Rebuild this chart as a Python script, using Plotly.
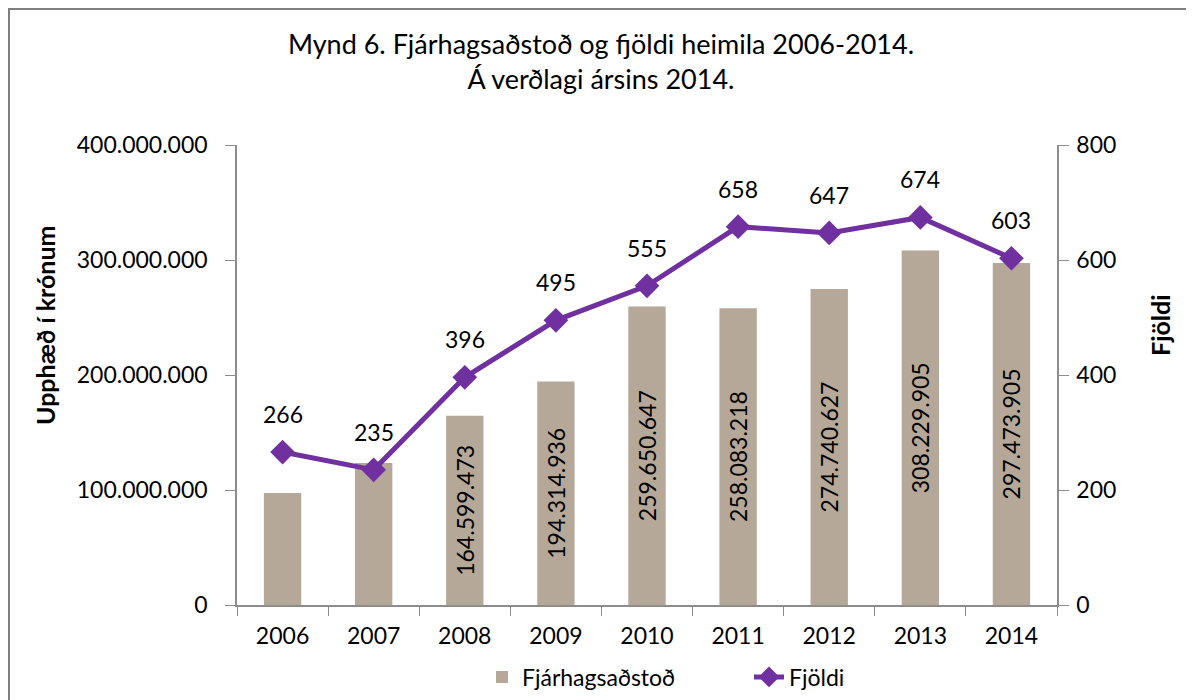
import plotly.graph_objects as go

years = ['2006', '2007', '2008', '2009', '2010', '2011', '2012', '2013', '2014']
fjarhagsadstod = [97400000, 123500000, 164599473, 194314936, 259650647,
                  258083218, 274740627, 308229905, 297473905]
fjoldi = [266, 235, 396, 495, 555, 658, 647, 674, 603]
# Excel dropped the labels on the two shortest bars
show_bar_label = [False, False, True, True, True, True, True, True, True]

FONT = 'Lato, Open Sans, sans-serif'
AXIS_GREY = '#8c8c8c'
FS = 23

bar_text = [f'{v:,}'.replace(',', '.') if show else ''
            for v, show in zip(fjarhagsadstod, show_bar_label)]

fig = go.Figure()

fig.add_trace(go.Bar(
    name='Fjárhagsaðstoð',
    x=years,
    y=fjarhagsadstod,
    width=0.41,
    marker=dict(color='#b5a898', line=dict(width=0)),
    text=bar_text,
    textposition='inside',
    insidetextanchor='middle',
    textangle=-90,
    textfont=dict(size=FS, color='black', family=FONT),
    yaxis='y',
))

fig.add_trace(go.Scatter(
    name='Fjöldi',
    x=years,
    y=fjoldi,
    mode='lines+markers',
    line=dict(color='#7030a0', width=5),
    marker=dict(symbol='diamond', size=19, color='#7030a0'),
    yaxis='y2',
))

# value labels above the line points (x given as category index)
for i, v in enumerate(fjoldi):
    fig.add_annotation(
        x=i, y=v, xref='x', yref='y2', text=str(v), showarrow=False,
        yshift=38, font=dict(size=FS, color='black', family=FONT),
    )

# the page adds an 8px body margin, so the figure is 8px smaller
# plot area on the page: x 237..1057, y 145..605
W, H = 1186, 692
L, T = 229, 137
pw, ph = 820, 460
R, B = W - L - pw, H - T - ph

# axis titles, placed like Excel did
fig.add_annotation(
    text='<b>Upphæð í krónum</b>', textangle=-90, showarrow=False,
    xref='paper', yref='paper', x=(37 - L) / pw, y=(T + ph - 317) / ph,
    xanchor='center', yanchor='middle', font=dict(size=25, family=FONT),
)
fig.add_annotation(
    text='<b>Fjöldi</b>', textangle=-90, showarrow=False,
    xref='paper', yref='paper', x=(1152 - L) / pw, y=(T + ph - 317) / ph,
    xanchor='center', yanchor='middle', font=dict(size=25, family=FONT),
)

fig.update_layout(
    width=W,
    height=H,
    margin=dict(l=L, r=R, t=T, b=B, autoexpand=False),
    paper_bgcolor='white',
    plot_bgcolor='white',
    separators=',.',
    font=dict(family=FONT, size=FS, color='black'),
    title=dict(
        text='Mynd 6. Fjárhagsaðstoð og fjöldi heimila 2006-2014.<br>Á verðlagi ársins 2014.',
        x=0.5, xanchor='center', y=0.934, yanchor='top',
        font=dict(size=27, family=FONT),
    ),
    bargap=0.5,
    showlegend=True,
    legend=dict(
        orientation='h', x=(482 - 8 - L) / pw, xanchor='left',
        y=(605 - 677) / ph, yanchor='middle',
        font=dict(size=FS), traceorder='normal',
        entrywidth=222, entrywidthmode='pixels',
    ),
    xaxis=dict(
        type='category', automargin=False, range=[-0.5, len(years) - 0.5],
        showline=True, linecolor=AXIS_GREY, linewidth=1.5,
        ticks='outside', tickson='boundaries', ticklen=9, tickcolor=AXIS_GREY,
        ticklabelstandoff=10,
        showgrid=False, tickfont=dict(size=FS),
    ),
    yaxis=dict(
        range=[0, 400000000], dtick=100000000, tickformat=',d', automargin=False,
        showline=True, linecolor=AXIS_GREY, linewidth=1.5,
        ticks='outside', ticklen=10, tickcolor=AXIS_GREY,
        ticklabelstandoff=13,
        showgrid=False, zeroline=False, tickfont=dict(size=FS),
    ),
    yaxis2=dict(
        range=[0, 800], dtick=200, overlaying='y', side='right', automargin=False,
        showline=True, linecolor=AXIS_GREY, linewidth=1.5,
        ticks='outside', ticklen=10, tickcolor=AXIS_GREY,
        ticklabelstandoff=3,
        showgrid=False, zeroline=False, tickfont=dict(size=FS),
    ),
)

# outer frame of the chart
fig.add_shape(
    type='rect', xref='paper', yref='paper',
    x0=(1 - L) / pw, x1=(W + 10 - L) / pw,
    y0=(B - H - 10) / ph, y1=(H - 1 - B) / ph,
    line=dict(color='#808080', width=2), fillcolor='rgba(0,0,0,0)',
    layer='below',
)

fig.write_html('out.html')
